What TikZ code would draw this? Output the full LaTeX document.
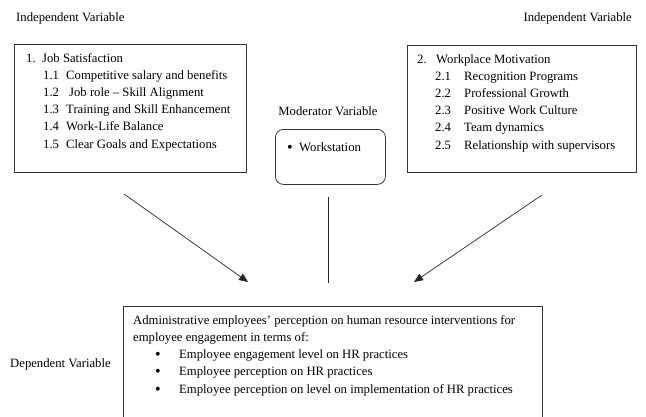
\documentclass[tikz,border=0pt]{standalone}
\usepackage{fontspec}
\setmainfont{Liberation Serif}
\usetikzlibrary{arrows.meta}
\begin{document}
\begin{tikzpicture}[x=1pt,y=-1pt,
  txt/.style={anchor=base west, inner sep=0pt, font=\fontsize{12.7}{17}\selectfont},
  dot/.style={txt, font=\fontsize{16}{17}\selectfont},
  framebox/.style={draw=black!80, line width=0.8pt, inner sep=0pt, anchor=north west},
  link/.style={draw=black!85, line width=0.7pt},
  arr/.style={link, -{Triangle[length=9pt,width=7.5pt]}}]
\path[use as bounding box, clip] (0,0) rectangle (646,416);

% variable captions
\node[txt] (ivleft) at (16,21) {Independent Variable};
\node[txt, anchor=base east] (ivright) at (632,21) {Independent Variable};
\node[txt, anchor=base] (mvlabel) at (328,115) {Moderator Variable};
\node[txt] (dvlabel) at (10,367) {Dependent Variable};

% frames
\node[framebox, minimum width=232pt, minimum height=128pt] (jsbox) at (14,44) {};
\node[framebox, minimum width=229pt, minimum height=127pt] (wmbox) at (407,45) {};
\node[framebox, rounded corners=8pt, minimum width=110pt, minimum height=55pt] (wsbox) at (275,129) {};
\node[framebox, minimum width=419pt, minimum height=140pt] (outbox) at (123,306) {};

% job satisfaction
\node[txt] (js0n) at (26,62) {1.};
\node[txt] (js0) at (42,62) {Job Satisfaction};
\node[txt] (js1n) at (43,79.2) {1.1};
\node[txt] (js1) at (66,79.2) {Competitive salary and benefits};
\node[txt] (js2n) at (43,96.4) {1.2};
\node[txt] (js2) at (69,96.4) {Job role -- Skill Alignment};
\node[txt] (js3n) at (43,113.6) {1.3};
\node[txt] (js3) at (66,113.6) {Training and Skill Enhancement};
\node[txt] (js4n) at (43,130.8) {1.4};
\node[txt] (js4) at (66,130.8) {Work-Life Balance};
\node[txt] (js5n) at (43,148) {1.5};
\node[txt] (js5) at (66,148) {Clear Goals and Expectations};

% workplace motivation
\node[txt] (wm0n) at (417,63) {2.};
\node[txt] (wm0) at (436,63) {Workplace Motivation};
\node[txt] (wm1n) at (435,80.2) {2.1};
\node[txt] (wm1) at (464,80.2) {Recognition Programs};
\node[txt] (wm2n) at (435,97.4) {2.2};
\node[txt] (wm2) at (464,97.4) {Professional Growth};
\node[txt] (wm3n) at (435,114.6) {2.3};
\node[txt] (wm3) at (464,114.6) {Positive Work Culture};
\node[txt] (wm4n) at (435,131.8) {2.4};
\node[txt] (wm4) at (464,131.8) {Team dynamics};
\node[txt] (wm5n) at (435,149) {2.5};
\node[txt] (wm5) at (464,149) {Relationship with supervisors};

% moderator
\node[dot] (wsb) at (287,152) {•};
\node[txt] (ws) at (299,151) {Workstation};

% outcome
\node[txt] (out1) at (133,324) {Administrative employees’ perception on human resource interventions for};
\node[txt] (out2) at (133,341.3) {employee engagement in terms of:};
\node[dot] (ob1) at (155,359.6) {•};
\node[txt] (o1) at (179,358.6) {Employee engagement level on HR practices};
\node[dot] (ob2) at (155,376.9) {•};
\node[txt] (o2) at (179,375.9) {Employee perception on HR practices};
\node[dot] (ob3) at (155,394.2) {•};
\node[txt] (o3) at (179,393.2) {Employee perception on level on implementation of HR practices};

% connectors
\coordinate (lstart) at (124,194);
\coordinate (lend) at (248,282);
\coordinate (rstart) at (542,195);
\coordinate (rend) at (414,282);
\coordinate (mtop) at (328,197);
\coordinate (mbot) at (328,283);
\draw[arr] (lstart) -- (lend);
\draw[arr] (rstart) -- (rend);
\draw[link] (mtop) -- (mbot);
\end{tikzpicture}
\end{document}
